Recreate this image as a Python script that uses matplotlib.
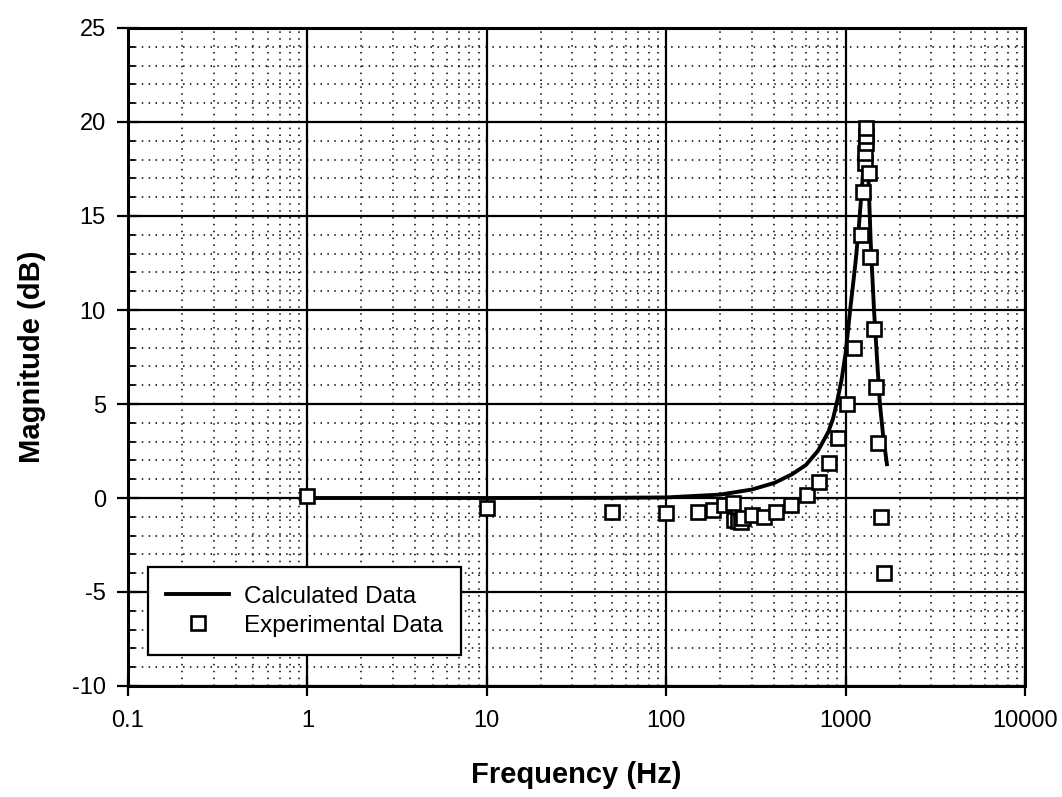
import matplotlib
matplotlib.use("Agg")
import matplotlib.pyplot as plt
from matplotlib.ticker import LogLocator, MultipleLocator, NullFormatter

plt.rcParams['font.family'] = ['Liberation Sans', 'DejaVu Sans']
plt.rcParams['axes.unicode_minus'] = False

# Calculated (model) curve
calc_freq = [1, 10, 50, 100, 200, 300, 400, 500, 600, 700, 800, 850, 900, 950, 1000,
             1060, 1135, 1185, 1240, 1275, 1300, 1320, 1350, 1380, 1440, 1495, 1553,
             1620, 1700]
calc_db = [0.0, 0.0, 0.01, 0.03, 0.18, 0.45, 0.8, 1.25, 1.75, 2.5, 3.5, 4.2, 5.2, 6.3,
           7.7, 10.0, 12.5, 14.4, 16.8, 18.5, 19.7, 19.1, 16.2, 13.6, 10.0, 7.5, 5.0,
           3.3, 1.8]

# Experimental points
exp_freq = [1, 10, 50, 100, 151, 182, 210, 236, 240, 250, 261, 269, 301, 350, 410,
            497, 608, 708, 808, 906, 1013, 1113, 1212, 1244, 1288, 1290, 1292, 1292,
            1292, 1345, 1375, 1438, 1470, 1508, 1566, 1628]
exp_db = [0.1, -0.55, -0.75, -0.8, -0.74, -0.64, -0.35, -0.27, -1.15, -1.2, -1.3, -1.06,
          -0.9, -1.0, -0.74, -0.37, 0.16, 0.87, 1.85, 3.2, 5.0, 8.0, 14.0, 16.3, 17.8,
          18.35, 18.9, 19.25, 19.7, 17.3, 12.8, 9.0, 5.9, 2.9, -1.0, -4.0]

x_ticks = [0.1, 1, 10, 100, 1000, 10000]
x_ticklabels = ['0.1', '1', '10', '100', '1000', '10000']
y_ticks = [-10, -5, 0, 5, 10, 15, 20, 25]

fig = plt.figure(figsize=(10.62, 7.97), dpi=100)
ax = fig.add_axes([128/1062, 1-686/797, (1025-128)/1062, (686-28)/797])

ax.set_xscale('log')
ax.set_xlim(0.1, 10000)
ax.set_ylim(-10, 25)

ax.set_xticks(x_ticks)
ax.set_xticklabels(x_ticklabels)
ax.xaxis.set_minor_locator(LogLocator(base=10, subs=range(2, 10), numticks=20))
ax.xaxis.set_minor_formatter(NullFormatter())
ax.set_yticks(y_ticks)
ax.yaxis.set_minor_locator(MultipleLocator(1))

ax.grid(True, which='major', color='black', linewidth=1.6, linestyle='-')
ax.grid(True, which='minor', color='black', linewidth=1.1, linestyle=(0, (1, 3.5)))
ax.set_axisbelow(True)

ax.tick_params(axis='y', which='major', direction='inout', length=16, width=1.6,
               labelsize=17, pad=8)
ax.tick_params(axis='y', which='minor', direction='in', length=5, width=1.3)
ax.tick_params(axis='x', which='major', direction='inout', length=14, width=1.6,
               labelsize=17, pad=10)
ax.tick_params(axis='x', which='minor', length=0)

for s in ax.spines.values():
    s.set_linewidth(2.2)
    s.set_color('black')

ax.plot(calc_freq, calc_db, color='black', linewidth=2.8, label='Calculated Data',
        zorder=3)
ax.plot(exp_freq, exp_db, linestyle='none', marker='s', markersize=10.5,
        markerfacecolor='white', markeredgecolor='black', markeredgewidth=1.9,
        label='Experimental Data', zorder=4)

ax.set_xlabel('Frequency (Hz)', fontsize=21, fontweight='bold', va='center')
ax.set_ylabel('Magnitude (dB)', fontsize=21, fontweight='bold', va='center')
ax.xaxis.set_label_coords(0.5, (686-775)/658)
ax.yaxis.set_label_coords((32-128)/897, 0.5)

leg = ax.legend(loc='lower left', bbox_to_anchor=(0.022, 0.047), borderaxespad=0,
                fontsize=17.5, frameon=True, fancybox=False, framealpha=1,
                edgecolor='black', handlelength=2.6, handletextpad=0.6,
                labelspacing=0.3, borderpad=0.75)
leg.get_frame().set_linewidth(1.6)
leg.set_zorder(10)

fig.savefig('out.png', dpi=100)
